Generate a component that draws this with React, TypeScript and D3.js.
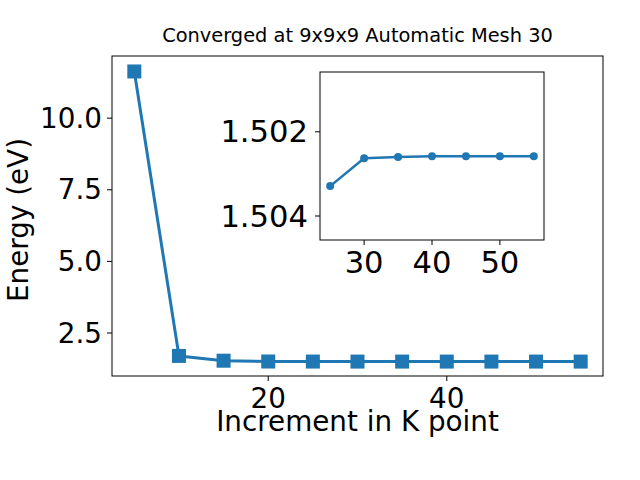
import React from "react";
import * as d3 from "d3";

const kPoints = [5, 10, 15, 20, 25, 30, 35, 40, 45, 50, 55];
const energies = [11.63, 1.7, 1.533, 1.505, 1.5033, 1.5026, 1.5026, 1.5026, 1.5026, 1.5026, 1.5026];
const mainXTicks = [20, 40];
const mainYTicks = [2.5, 5.0, 7.5, 10.0];

const insetK = [25, 30, 35, 40, 45, 50, 55];
const insetE = [1.50329, 1.50263, 1.5026, 1.50258, 1.50258, 1.50258, 1.50258];
const insetXTicks = [30, 40, 50];
const insetYTicks = [1.502, 1.504];

const title = "Converged at 9x9x9 Automatic Mesh 30";
const xLabel = "Increment in K point";
const yLabel = "Energy (eV)";

const color = "#1f77b4";
const font = "DejaVu Sans, sans-serif";

export default function App() {
  const W = 640, H = 480;
  const m = { left: 112, right: 603, top: 56, bottom: 376 };
  const x = d3.scaleLinear().domain([2.5, 57.5]).range([m.left, m.right]);
  const y = d3.scaleLinear().domain([0.999, 12.17]).range([m.bottom, m.top]);

  const ins = { left: 320, right: 544, top: 72, bottom: 240 };
  const ix = d3.scaleLinear().domain([23.5, 56.5]).range([ins.left, ins.right]);
  const iy = d3.scaleLinear().domain([1.50058, 1.50457]).range([ins.top, ins.bottom]);

  const mainLine = d3.line<number>().x((_, i) => x(kPoints[i])).y((d) => y(d))(energies) || "";
  const insetLine = d3.line<number>().x((_, i) => ix(insetK[i])).y((d) => iy(d))(insetE) || "";

  return (
    <svg width={W} height={H} style={{ display: "block", position: "absolute", left: 0, top: 0 }} fontFamily={font}>
      <rect width={W} height={H} fill="white" />
      {/* main axes */}
      <text x={(m.left + m.right) / 2} y={42} fontSize={19.4} textAnchor="middle">{title}</text>
      <path d={mainLine} fill="none" stroke={color} strokeWidth={3} strokeLinejoin="round" />
      {energies.map((d, i) => (
        <rect key={i} x={x(kPoints[i]) - 7} y={y(d) - 7} width={14} height={14} fill={color} />
      ))}
      <rect x={m.left} y={m.top} width={m.right - m.left} height={m.bottom - m.top} fill="none" stroke="black" strokeWidth={1} />
      {mainXTicks.map((t) => (
        <g key={t}>
          <line x1={x(t)} x2={x(t)} y1={m.bottom} y2={m.bottom + 5} stroke="black" />
          <text x={x(t)} y={407.5} fontSize={27.8} textAnchor="middle">{t}</text>
        </g>
      ))}
      {mainYTicks.map((t) => (
        <g key={t}>
          <line x1={m.left - 5} x2={m.left} y1={y(t)} y2={y(t)} stroke="black" />
          <text x={102} y={y(t)} fontSize={27.8} textAnchor="end" dominantBaseline="central">{t.toFixed(1)}</text>
        </g>
      ))}
      <text x={(m.left + m.right) / 2} y={431} fontSize={27.8} textAnchor="middle">{xLabel}</text>
      <text transform={`translate(28,220) rotate(-90)`} fontSize={27.8} textAnchor="middle">{yLabel}</text>

      {/* inset axes */}
      <rect x={ins.left} y={ins.top} width={ins.right - ins.left} height={ins.bottom - ins.top} fill="white" stroke="none" />
      <path d={insetLine} fill="none" stroke={color} strokeWidth={2.5} strokeLinejoin="round" />
      {insetE.map((d, i) => (
        <circle key={i} cx={ix(insetK[i])} cy={iy(d)} r={4} fill={color} />
      ))}
      <rect x={ins.left} y={ins.top} width={ins.right - ins.left} height={ins.bottom - ins.top} fill="none" stroke="black" strokeWidth={1} />
      {insetXTicks.map((t) => (
        <g key={t}>
          <line x1={ix(t)} x2={ix(t)} y1={ins.bottom} y2={ins.bottom + 5} stroke="black" />
          <text x={ix(t)} y={273} fontSize={30.6} textAnchor="middle">{t}</text>
        </g>
      ))}
      {insetYTicks.map((t) => (
        <g key={t}>
          <line x1={ins.left - 5} x2={ins.left} y1={iy(t)} y2={iy(t)} stroke="black" />
          <text x={308} y={iy(t)} fontSize={30.6} textAnchor="end" dominantBaseline="central">{t.toFixed(3)}</text>
        </g>
      ))}
    </svg>
  );
}
